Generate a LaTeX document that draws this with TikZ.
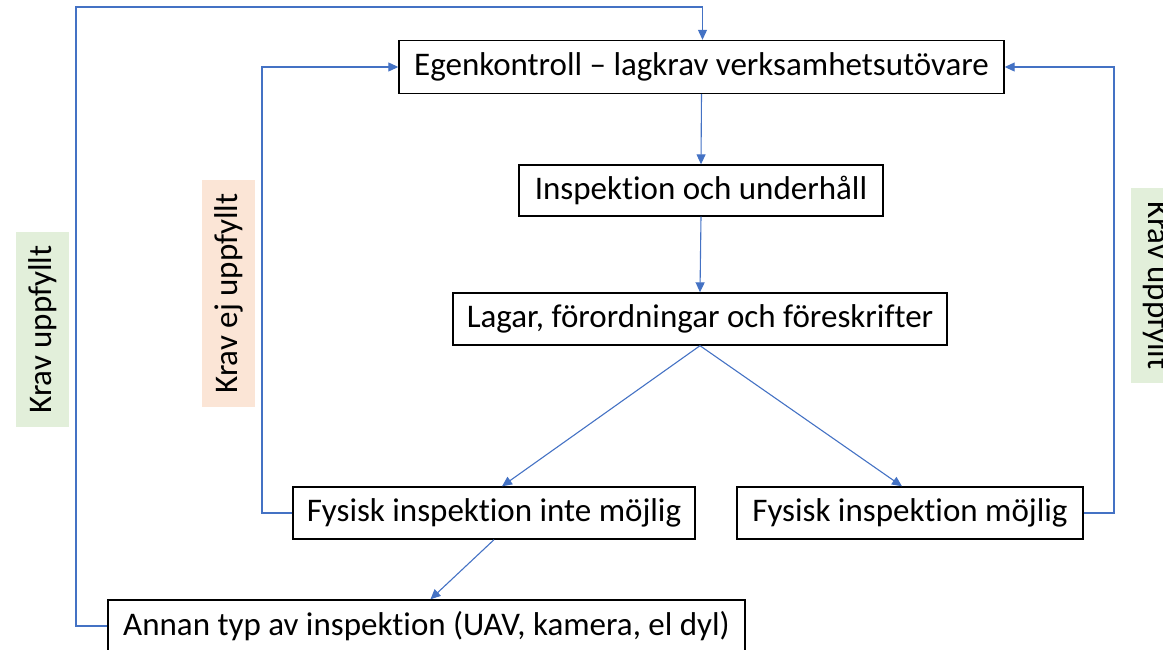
\documentclass[tikz,border=0pt]{standalone}
\usepackage{fontspec}
\setmainfont[Ligatures=NoCommon]{Carlito}
\usetikzlibrary{arrows.meta}
\definecolor{lineblue}{HTML}{4472C4}
\definecolor{lgreen}{HTML}{E2EFDA}
\definecolor{lorange}{HTML}{FBE5D6}
\begin{document}
\begin{tikzpicture}[x=1pt,y=-1pt,
  box/.style={draw=black,line width=1.4pt,rectangle,inner sep=0pt,
    font=\fontsize{33}{38}\selectfont,text=black},
  lbl/.style={rectangle,inner sep=0pt,minimum height=53pt,
    font=\fontsize{33}{38}\selectfont,text=black},
  conn/.style={draw=lineblue,line width=1.1pt},
  arr/.style={conn,-{Triangle[length=10pt,width=9pt]}}]
\useasboundingbox (0,0) rectangle (1163,649);
\node[box,minimum width=605pt,minimum height=53pt] (egen) at (701.5,67) {Egenkontroll – lagkrav verksamhetsutövare};
\node[box,minimum width=364pt,minimum height=51pt] (insp) at (701,190.5) {Inspektion och underhåll};
\node[box,minimum width=494pt,minimum height=52pt] (lagar) at (700,319) {Lagar, förordningar och föreskrifter};
\node[box,minimum width=402pt,minimum height=52pt] (fin) at (494,513) {Fysisk inspektion inte möjlig};
\node[box,minimum width=346pt,minimum height=52pt] (fm) at (910,513) {Fysisk inspektion möjlig};
\node[box,minimum width=637pt,minimum height=52pt] (annan) at (426.5,626) {Annan typ av inspektion (UAV, kamera, el dyl)};
\node[lbl,fill=lgreen,minimum width=195pt,rotate=90] (kul) at (42.5,329.5) {Krav uppfyllt};
\node[lbl,fill=lorange,minimum width=227pt,rotate=90] (kej) at (228.5,293.5) {Krav ej uppfyllt};
\node[lbl,fill=lgreen,minimum width=195pt,rotate=-90] (kur) at (1157.5,285.5) {Krav uppfyllt};
\coordinate (c1) at (76,7);
\coordinate (c2) at (262,67);
\coordinate (c3) at (1114,67);
\draw[arr] (annan.west) -| (c1) -| ([xshift=1pt]egen.north);
\draw[arr] (fin.west) -| (c2) -- (egen.west);
\draw[arr] (fm.east) -| (c3) -- (egen.east);
\draw[arr] (egen.south) -- (insp.north);
\draw[arr] (insp.south) -- (lagar.north);
\draw[arr] (lagar.south) -- ([xshift=8pt]fin.north);
\draw[arr] (lagar.south) -- ([xshift=-8pt]fm.north);
\draw[arr] (fin.south) -- ([xshift=4pt]annan.north);
\end{tikzpicture}
\end{document}
